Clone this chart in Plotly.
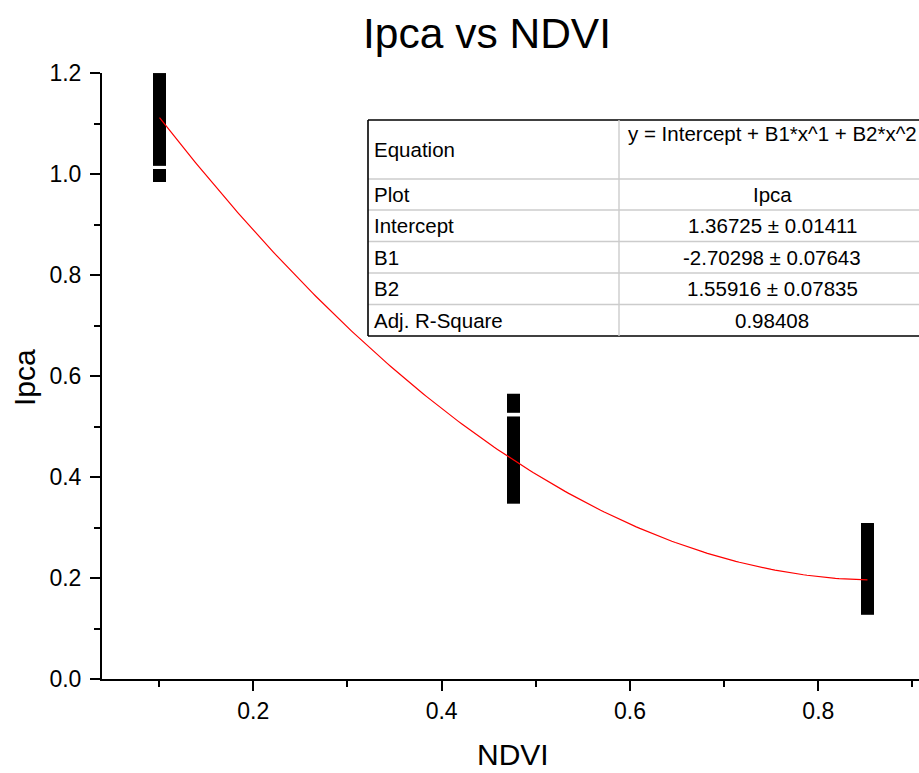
import numpy as np
import plotly.graph_objects as go

# Observations: NDVI of each site and the Ipca values measured there
site_ndvi = [0.1004, 0.4763, 0.8522]
ipca_site1 = [1.187, 1.168, 1.148, 1.128, 1.108, 1.088, 1.068, 1.048, 1.029, 0.997]
ipca_site2 = [0.552, 0.540, 0.507, 0.487, 0.467, 0.447, 0.427, 0.407, 0.388, 0.374, 0.360]
ipca_site3 = [0.296, 0.276, 0.256, 0.236, 0.216, 0.196, 0.176, 0.158, 0.140]
ipca_by_site = [ipca_site1, ipca_site2, ipca_site3]

# Polynomial fit results (order 2)
intercept, intercept_err = 1.36725, 0.01411
b1, b1_err = -2.70298, 0.07643
b2, b2_err = 1.55916, 0.07835
adj_r2 = 0.98408

table_rows = [
    ("Equation", "y = Intercept + B1*x^1 + B2*x^2"),
    ("Plot", "Ipca"),
    ("Intercept", f"{intercept:.5f} ± {intercept_err:.5f}"),
    ("B1", f"{b1:.5f} ± {b1_err:.5f}"),
    ("B2", f"{b2:.5f} ± {b2_err:.5f}"),
    ("Adj. R-Square", f"{adj_r2:.5f}"),
]

W, H = 919, 773
ML, MR, MT, MB = 102, 0, 73, 94
FONT = "Liberation Sans, Arial, sans-serif"


def px_x(px):
    return (px - ML) / (W - ML - MR)


def px_y(py):
    return (H - MB - py) / (H - MT - MB)


xs, ys = [], []
for x, vals in zip(site_ndvi, ipca_by_site):
    for v in vals:
        xs.append(x)
        ys.append(v)

fig = go.Figure()
fig.add_trace(go.Scatter(
    x=xs, y=ys, mode="markers",
    marker=dict(symbol="square", size=13, color="black", line=dict(width=0)),
    showlegend=False, hoverinfo="x+y",
))

xf = np.linspace(min(site_ndvi), max(site_ndvi), 200)
yf = intercept + b1 * xf + b2 * xf ** 2
fig.add_trace(go.Scatter(
    x=xf, y=yf, mode="lines", line=dict(color="#ff0000", width=1.2),
    showlegend=False, hoverinfo="skip",
))

# Fit-results table
tx0, tx1, tdiv, tx_end = 368, 925, 619, 925
row_edges = [120, 179, 210, 241.5, 273, 304.5, 336]
shapes = []
for i, yy in enumerate(row_edges):
    outer = i in (0, len(row_edges) - 1)
    shapes.append(dict(
        type="line", xref="paper", yref="paper",
        x0=px_x(tx0), x1=px_x(tx_end), y0=px_y(yy), y1=px_y(yy),
        line=dict(color="black" if outer else "#cccccc", width=1.6 if outer else 1.4),
    ))
shapes.append(dict(
    type="line", xref="paper", yref="paper",
    x0=px_x(tx0), x1=px_x(tx0), y0=px_y(row_edges[0]), y1=px_y(row_edges[-1]),
    line=dict(color="black", width=1.6),
))
shapes.append(dict(
    type="line", xref="paper", yref="paper",
    x0=px_x(tdiv), x1=px_x(tdiv), y0=px_y(row_edges[0]), y1=px_y(row_edges[-1]),
    line=dict(color="#cccccc", width=1.4),
))

annotations = []
col2_center = (tdiv + tx1) / 2
for i, (label, value) in enumerate(table_rows):
    top, bot = row_edges[i], row_edges[i + 1]
    mid = (top + bot) / 2
    annotations.append(dict(
        x=px_x(tx0 + 4), y=px_y(mid), xref="paper", yref="paper",
        text=label, showarrow=False, xanchor="left", yanchor="middle",
        font=dict(family=FONT, size=20.5, color="black"),
    ))
    vy = px_y(top + 13) if i == 0 else px_y(mid)
    annotations.append(dict(
        x=px_x(col2_center), y=vy, xref="paper", yref="paper",
        text=value, showarrow=False, xanchor="center", yanchor="middle",
        font=dict(family=FONT, size=20.5, color="black"),
    ))

# Titles
annotations.append(dict(
    x=px_x(486.5), y=px_y(34), xref="paper", yref="paper",
    text="Ipca vs NDVI", showarrow=False, xanchor="center", yanchor="middle",
    font=dict(family=FONT, size=42.5, color="black"),
))
annotations.append(dict(
    x=px_x(513), y=px_y(754), xref="paper", yref="paper",
    text="NDVI", showarrow=False, xanchor="center", yanchor="middle",
    font=dict(family=FONT, size=30, color="black"),
))
annotations.append(dict(
    x=px_x(25), y=px_y(378), xref="paper", yref="paper",
    text="Ipca", showarrow=False, xanchor="center", yanchor="middle", textangle=-90,
    font=dict(family=FONT, size=30, color="black"),
))

x_lo = 0.2 - (253.3 - ML) / 941.7
x_hi = 0.2 + (W - MR - 253.3) / 941.7

axis_common = dict(
    showline=True, linewidth=2, linecolor="black", showgrid=False, zeroline=False,
    ticks="outside", ticklen=10, tickwidth=2, tickcolor="black", mirror=False,
    tickfont=dict(family=FONT, size=23, color="black"),
)

fig.update_layout(
    width=W, height=H,
    margin=dict(l=ML, r=MR, t=MT, b=MB, pad=0),
    paper_bgcolor="white", plot_bgcolor="white",
    xaxis=dict(range=[x_lo, x_hi], tick0=0, dtick=0.2, tickformat=".1f",
               minor=dict(ticks="outside", ticklen=6, tickwidth=2, tickcolor="black", dtick=0.1),
               **axis_common),
    yaxis=dict(range=[0, 1.2], tick0=0, dtick=0.2, tickformat=".1f", ticklabelstandoff=4,
               minor=dict(ticks="outside", ticklen=6, tickwidth=2, tickcolor="black", dtick=0.1),
               **axis_common),
    shapes=shapes,
    annotations=annotations,
    font=dict(family=FONT, color="black"),
)

fig.write_html("out.html")
